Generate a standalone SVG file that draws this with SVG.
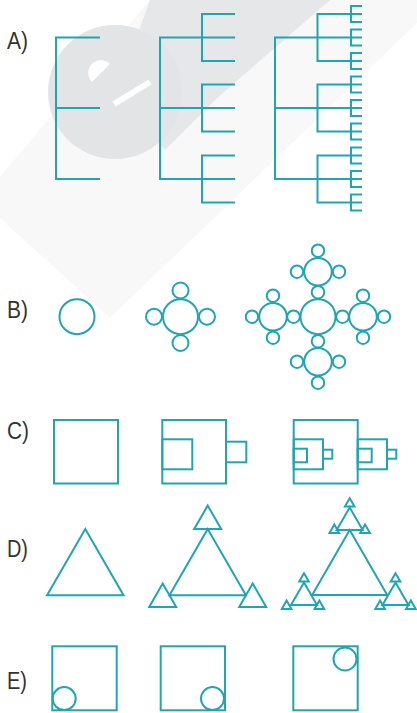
<svg xmlns="http://www.w3.org/2000/svg" width="417" height="713" viewBox="0 0 417 713">
<style>
.ln{fill:none;stroke:#1fa6b3;stroke-width:2;stroke-linejoin:miter;stroke-linecap:butt}
.lb{font-family:"Liberation Sans",Arial,sans-serif;font-size:23px;fill:#333}
</style>
<rect width="417" height="713" fill="#fff"/>
<g id="watermark">
<polygon points="-20,200 150,0 420,0 420,20 110,318" fill="#f8f8f8"/>
<polygon points="150,0 330,0 215,100 165,150 118,88" fill="#e6e7e8"/>
<circle cx="115" cy="92" r="67" fill="#e3e4e6"/>
<path d="M92,82 A12,12 0 0 1 110,64 Z" fill="#fff"/>
<path d="M114,104 L150,82" stroke="#fff" stroke-width="6" fill="none"/>
</g>
<g id="labels">
<text class="lb" x="7" y="48.5" textLength="21" lengthAdjust="spacingAndGlyphs">A)</text>
<text class="lb" x="7" y="317.7" textLength="21" lengthAdjust="spacingAndGlyphs">B)</text>
<text class="lb" x="7" y="438.7" textLength="22" lengthAdjust="spacingAndGlyphs">C)</text>
<text class="lb" x="7" y="556.5" textLength="21" lengthAdjust="spacingAndGlyphs">D)</text>
<text class="lb" x="7" y="689.3" textLength="20" lengthAdjust="spacingAndGlyphs">E)</text>
</g>
<g id="A1"><path class="ln" d="M100,37.5 H56 V179 H100 M56,108 H100"/></g>
<g id="A2"><path class="ln" d="M202,37.5 H160 V179 H202 M160,108 H202
M235,14 H202 V61 H235 M202,37.5 H235
M235,84.5 H202 V131.5 H235 M202,108 H235
M235,155.5 H202 V202.5 H235 M202,179 H235"/></g>
<g id="A3"><path class="ln" d="M317.5,37.5 H275 V179 H317.5 M275,108 H317.5
M351,14 H317.5 V61 H351 M317.5,37.5 H351
M351,84.5 H317.5 V131.5 H351 M317.5,108 H351
M351,155.5 H317.5 V202.5 H351 M317.5,179 H351
M362,6 H351 V22 H362 M351,14 H362
M362,29.5 H351 V45.5 H362 M351,37.5 H362
M362,53 H351 V69 H362 M351,61 H362
M362,76.5 H351 V92.5 H362 M351,84.5 H362
M362,100 H351 V116 H362 M351,108 H362
M362,123.5 H351 V139.5 H362 M351,131.5 H362
M362,147.5 H351 V163.5 H362 M351,155.5 H362
M362,171 H351 V187 H362 M351,179 H362
M362,194.5 H351 V210.5 H362 M351,202.5 H362"/></g>
<g id="B1"><circle class="ln" cx="77" cy="316.7" r="17.5"/></g>
<g id="B2">
<circle class="ln" cx="180.5" cy="316.7" r="17.5"/>
<circle class="ln" cx="180.5" cy="290.5" r="8"/>
<circle class="ln" cx="154" cy="316.7" r="8"/>
<circle class="ln" cx="207" cy="316.7" r="8"/>
<circle class="ln" cx="180.5" cy="343" r="8"/>
</g>
<g id="B3">
<circle class="ln" cx="318" cy="316.7" r="17.5"/>
<circle class="ln" cx="318" cy="292.2" r="6.3"/>
<circle class="ln" cx="318" cy="341.2" r="6.3"/>
<circle class="ln" cx="293.5" cy="316.7" r="6.3"/>
<circle class="ln" cx="342.5" cy="316.7" r="6.3"/>
<circle class="ln" cx="318" cy="271.7" r="13.8"/>
<circle class="ln" cx="318" cy="361.7" r="13.8"/>
<circle class="ln" cx="273" cy="316.7" r="13.8"/>
<circle class="ln" cx="363" cy="316.7" r="13.8"/>
<circle class="ln" cx="318" cy="250.7" r="6.2"/>
<circle class="ln" cx="297" cy="271.7" r="6.2"/>
<circle class="ln" cx="339" cy="271.7" r="6.2"/>
<circle class="ln" cx="318" cy="382.7" r="6.2"/>
<circle class="ln" cx="297" cy="361.7" r="6.2"/>
<circle class="ln" cx="339" cy="361.7" r="6.2"/>
<circle class="ln" cx="252" cy="316.7" r="6.2"/>
<circle class="ln" cx="273" cy="295.7" r="6.2"/>
<circle class="ln" cx="273" cy="337.7" r="6.2"/>
<circle class="ln" cx="384" cy="316.7" r="6.2"/>
<circle class="ln" cx="363" cy="295.7" r="6.2"/>
<circle class="ln" cx="363" cy="337.7" r="6.2"/>
</g>
<g id="C1"><rect class="ln" x="54" y="420" width="64" height="63.5"/></g>
<g id="C2">
<rect class="ln" x="162.3" y="420" width="63.7" height="63.5"/>
<rect class="ln" x="162.3" y="439.3" width="30" height="30"/>
<rect class="ln" x="226" y="441.7" width="20.3" height="20.6"/>
</g>
<g id="C3">
<rect class="ln" x="293.7" y="420" width="64" height="63.5"/>
<rect class="ln" x="293.7" y="439.3" width="29.3" height="30"/>
<rect class="ln" x="293.7" y="448.7" width="13.3" height="13.6"/>
<rect class="ln" x="323" y="449.7" width="9.3" height="9"/>
<rect class="ln" x="357.7" y="439.3" width="29.3" height="30"/>
<rect class="ln" x="357.7" y="448.7" width="14" height="13.6"/>
<rect class="ln" x="387" y="449.7" width="9.3" height="9"/>
</g>
<g id="D1"><polygon class="ln" points="85.3,529 47.05,595.2 123.55,595.2"/></g>
<g id="D2">
<polygon class="ln" points="207.7,529 169.45,595.2 245.95,595.2"/>
<polygon class="ln" points="207.7,505.6 194.2,529 221.2,529"/>
<polygon class="ln" points="162.7,583.5 149.2,606.9 176.2,606.9"/>
<polygon class="ln" points="252.7,583.5 239.2,606.9 266.2,606.9"/>
</g>
<g id="D3">
<polygon class="ln" points="349.7,530 312.2,595 387.2,595"/>
<polygon class="ln" points="349.7,507.5 336.7,530 362.7,530"/>
<polygon class="ln" points="349.7,498.2 344.9,506.5 354.5,506.5"/>
<polygon class="ln" points="334.3,524.6 329.5,532.9 339.1,532.9"/>
<polygon class="ln" points="365.1,524.6 360.3,532.9 369.9,532.9"/>
<polygon class="ln" points="304,582.5 291,605 317,605"/>
<polygon class="ln" points="304,573.2 299.2,581.5 308.8,581.5"/>
<polygon class="ln" points="286.6,600.6 281.8,608.9 291.4,608.9"/>
<polygon class="ln" points="319.4,600.6 314.6,608.9 324.2,608.9"/>
<polygon class="ln" points="395.5,582.5 382.5,605 408.5,605"/>
<polygon class="ln" points="395.5,573.2 390.7,581.5 400.3,581.5"/>
<polygon class="ln" points="380.1,600.6 375.3,608.9 384.9,608.9"/>
<polygon class="ln" points="410.9,600.6 406.1,608.9 415.7,608.9"/>
</g>
<g id="E1">
<rect class="ln" x="52.3" y="646.3" width="64.4" height="64"/>
<circle class="ln" cx="64.2" cy="698.6" r="11.5"/>
</g>
<g id="E2">
<rect class="ln" x="160.7" y="646.3" width="64.3" height="64"/>
<circle class="ln" cx="212.5" cy="698.6" r="11.5"/>
</g>
<g id="E3">
<rect class="ln" x="293.3" y="646.3" width="64.4" height="64"/>
<circle class="ln" cx="345" cy="659" r="11.5"/>
</g>
</svg>
